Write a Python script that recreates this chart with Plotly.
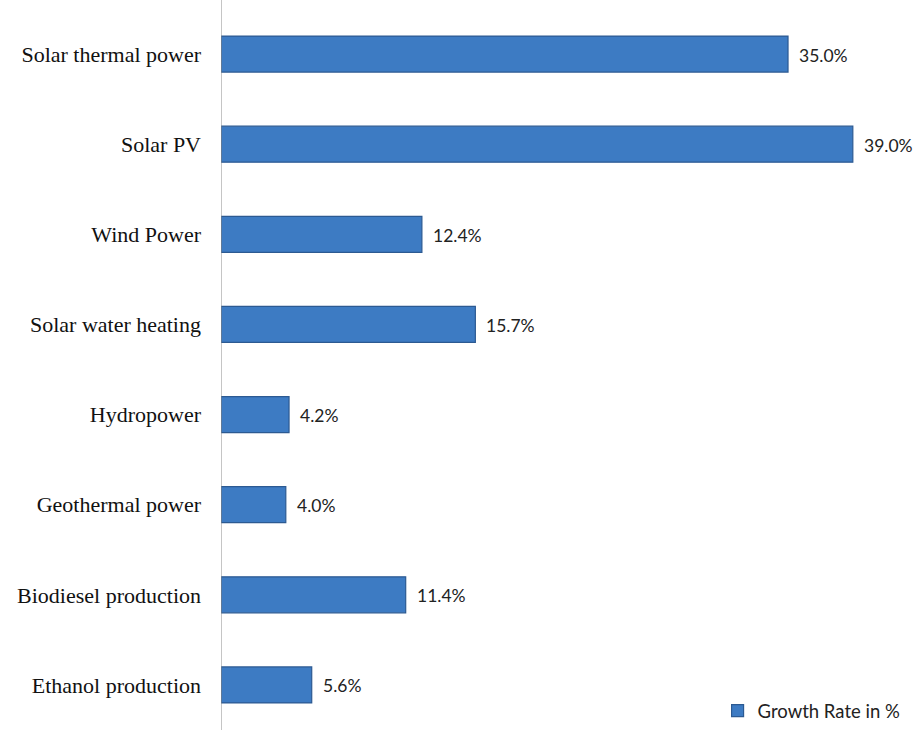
import plotly.graph_objects as go

# Renewable energy growth rates (%)
categories = [
    "Solar thermal power",
    "Solar PV",
    "Wind Power",
    "Solar water heating",
    "Hydropower",
    "Geothermal power",
    "Biodiesel production",
    "Ethanol production",
]
growth_rate = [35.0, 39.0, 12.4, 15.7, 4.2, 4.0, 11.4, 5.6]
series_name = "Growth Rate in %"

label_font = "Lato, 'Open Sans', sans-serif"

fig = go.Figure()
fig.add_trace(go.Bar(
    y=categories,
    x=growth_rate,
    orientation="h",
    name=series_name,
    marker=dict(color="#3d7bc3", line=dict(color="#2c5a92", width=1.2)),
    showlegend=True,
))

# Value labels to the right of each bar
for cat, val in zip(categories, growth_rate):
    fig.add_annotation(
        x=val, y=cat, text=f"{val:.1f}%",
        xanchor="left", xshift=9, yshift=-1, showarrow=False,
        font=dict(family=label_font, size=17.5, color="#222222"),
    )

# Category axis line running the full height of the figure
fig.add_shape(
    type="line", xref="x", yref="paper",
    x0=0, x1=0, y0=-0.02, y1=1.02,
    line=dict(color="#8c8c8c", width=1),
)

fig.update_layout(
    width=916, height=730,
    margin=dict(l=221, r=0, t=9, b=0),
    paper_bgcolor="white", plot_bgcolor="white",
    bargap=0.6,
    xaxis=dict(range=[0, 42.9], visible=False, showgrid=False, zeroline=False),
    yaxis=dict(
        autorange="reversed",
        showline=False,
        showgrid=False, zeroline=False, ticks="",
        ticklabelstandoff=19,
        tickfont=dict(family="'Liberation Serif', 'Times New Roman', serif", size=22, color="#111111"),
    ),
    legend=dict(
        x=0.985, y=0.0, xanchor="right", yanchor="bottom",
        font=dict(family=label_font, size=18.5, color="#222222"),
        bgcolor="rgba(0,0,0,0)", itemwidth=30,
    ),
)

fig.write_html("out.html")
